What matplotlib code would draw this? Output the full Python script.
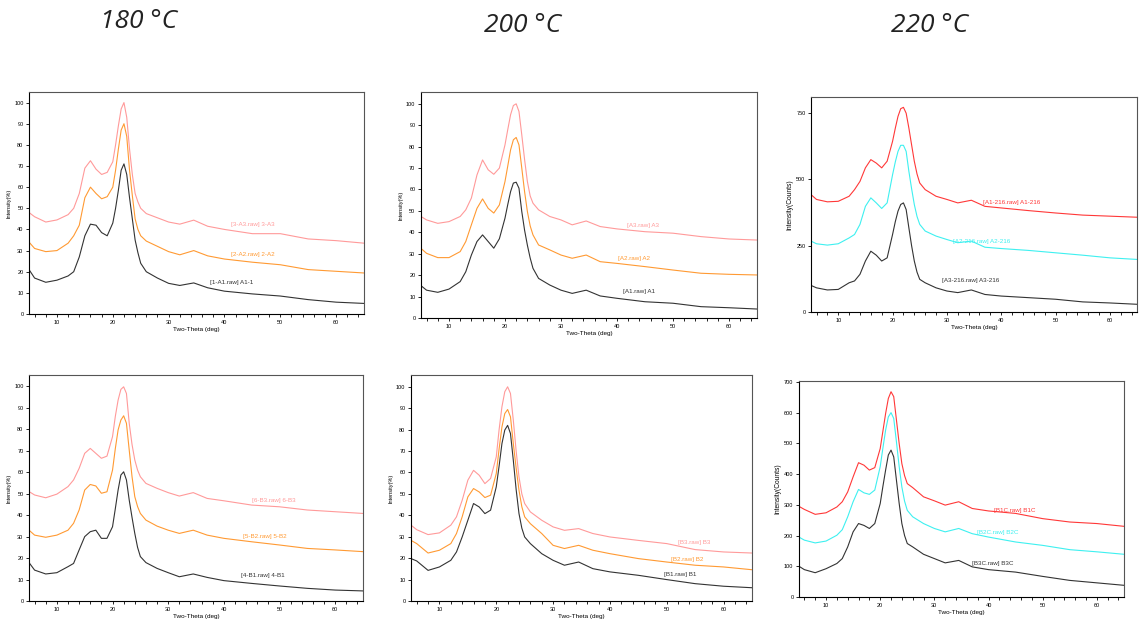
import matplotlib
matplotlib.use("Agg")
import matplotlib.pyplot as plt
from matplotlib.ticker import MultipleLocator

plt.rcParams.update({
    "font.family": "Liberation Sans",
    "axes.linewidth": 0.8,
    "xtick.direction": "out",
    "ytick.direction": "out",
})

# shared 2-theta sample grid (deg)
TWO_THETA = [5, 6, 8, 10, 12, 13, 14, 15, 16, 17, 18, 19, 20, 20.5, 21, 21.5, 22, 22.5, 23, 23.5,
             24, 24.5, 25, 26, 28, 30, 32, 34.5, 37, 40, 45, 50, 55, 60, 65]

# ---- 180 C, row A (%) ----
A1_1 = [21, 17, 15, 16, 18, 20, 27, 37, 42.5, 42, 38.5, 37, 43, 50, 58.5, 68, 71, 66, 55, 45,
        35, 29, 24, 20, 17, 14.5, 13.5, 14.7, 12.4, 10.8, 9.5, 8.5, 6.8, 5.6, 5]
A2_2 = [34, 31, 29.5, 30, 33.5, 37, 42, 55, 60, 57, 54.5, 55.5, 60, 68, 78, 87, 90, 84, 68, 56,
        45, 40, 37, 34.5, 32, 29.5, 28, 30, 27.5, 26, 24.5, 23.3, 21, 20.2, 19.4]
A3_3 = [48, 46, 43.5, 44.5, 47, 50, 57, 69, 72.5, 68.5, 66, 67, 72, 80, 89, 97, 100, 93, 78, 66,
        57, 53, 50, 47.5, 45.5, 43.5, 42.5, 44.4, 41.5, 40, 38, 38, 35.5, 34.7, 33.5]
# ---- 200 C, row A (%) ----
A1 = [15.1, 13, 12, 13.5, 17, 21.6, 29.4, 35.7, 38.8, 35.7, 32.6, 37, 46.6, 53, 59, 63, 63.4, 60.6, 49.7, 41,
      34, 28, 23.2, 18.5, 15.4, 13, 11.5, 13, 10.3, 9.2, 7.6, 6.9, 5.3, 4.8, 4.2]
A2 = [32.5, 30.2, 28.2, 28.2, 31, 35.7, 43.5, 51.2, 55.6, 51.2, 49, 52.8, 63.7, 71, 78.5, 83.2, 84.3, 80.8, 70, 59,
      49.7, 43, 38.8, 34.1, 31.8, 29.4, 27.9, 29.4, 26.3, 25.5, 24, 22.4, 20.9, 20.4, 20.1]
A3 = [47.4, 45.8, 44.2, 45, 47.4, 50.5, 56, 66.8, 73.8, 69.2, 67.1, 70, 80.8, 88, 94.9, 99.2, 100, 96.4, 85.5, 74,
      63.7, 57, 53.6, 50.5, 47.4, 45.8, 43.5, 45.3, 42.7, 41.6, 40.3, 39.6, 38, 36.9, 36.4]
# ---- 220 C, row A (counts) ----
A1_216 = [442, 424, 415, 417, 436, 461, 492, 543, 574, 561, 543, 568, 643, 692, 737, 766, 771, 749, 693, 630,
          568, 520, 486, 461, 436, 424, 411, 421, 398, 392, 382, 373, 365, 361, 357]
A2_216 = [267, 257, 252, 257, 279, 292, 330, 398, 430, 411, 390, 411, 517, 565, 605, 628, 628, 605, 530, 465,
          405, 360, 330, 305, 286, 273, 261, 267, 244, 239, 232, 223, 214, 204, 198]
A3_216 = [100, 91, 83, 85, 110, 117, 142, 192, 229, 214, 192, 204, 292, 340, 380, 405, 411, 386, 317, 250,
          192, 150, 123, 110, 91, 79, 73, 83, 66, 60, 54, 48, 38, 34, 29]
# ---- 180 C, row B (%) ----
B1_4 = [17.9, 14.4, 12.6, 13.2, 16, 17.5, 23.8, 30, 32.3, 33, 29.2, 29.2, 34.6, 43, 51.7, 58.7, 60.2, 56.4, 47, 39,
        31.5, 25, 20.7, 17.9, 15.2, 13.2, 11.3, 12.6, 11, 9.5, 8.2, 7, 5.9, 5.1, 4.7]
B2_5 = [33, 30.7, 29.7, 30.7, 33, 36.2, 42.4, 51.7, 54.3, 53.6, 50.2, 50.9, 61, 71, 79.7, 84.3, 86.3, 82.8, 70.3, 58,
        48.6, 44, 40.8, 37.7, 34.9, 33, 31.5, 33, 30.7, 29.2, 27.6, 26.1, 24.5, 23.8, 23]
B3_6 = [51, 49.4, 48.1, 49.8, 53.3, 56.4, 61.8, 68.8, 71.1, 68.8, 66.5, 67.5, 76.6, 86, 93.6, 98.6, 99.8, 96.7, 82.8, 73,
        65.7, 61, 57.9, 54.8, 52.5, 50.5, 48.9, 50.5, 47.8, 46.7, 44.7, 43.9, 42.4, 41.6, 40.8]
# ---- 200 C, row B (%) ----
B1 = [19.8, 18.7, 14.3, 15.9, 19, 22.9, 29.9, 37.7, 45.5, 43.9, 40.8, 42.4, 53.3, 63, 73.5, 79.8, 82, 78.2, 65.7, 52,
      40.8, 34, 29.9, 26.8, 22.1, 19, 16.7, 18.2, 15.1, 13.6, 12, 10, 8.1, 6.9, 6.2]
B2 = [28.3, 26.8, 22.4, 23.7, 26.8, 31.5, 39.3, 48.6, 52.5, 50.9, 48.3, 49.4, 59.5, 71, 81.3, 87.5, 89.4, 86, 73.5, 62,
      51.7, 44, 39.3, 36.1, 31.5, 26, 24.5, 26, 23.7, 22.1, 19.8, 18.2, 16.7, 15.9, 14.6]
B3 = [35.4, 33.3, 31, 31.8, 35.4, 39.3, 47, 56.4, 61, 58.7, 54.8, 57.2, 67.3, 80, 90.7, 97.7, 100, 96.9, 84.4, 70,
      57.9, 50, 45.5, 41.6, 37.7, 34.6, 33, 33.8, 31.5, 29.9, 28.3, 26.8, 24, 22.9, 22.4]
# ---- 220 C, row B (counts) ----
B1C = [295, 285, 269, 274, 293, 310, 342, 391, 437, 429, 413, 421, 483, 540, 597, 646, 668, 652, 576, 500,
       434, 395, 369, 356, 326, 313, 299, 310, 288, 280, 272, 255, 244, 239, 230]
B2C = [195, 185, 176, 182, 201, 219, 261, 310, 350, 339, 334, 348, 424, 485, 543, 586, 600, 581, 505, 425,
       358, 312, 282, 261, 239, 223, 212, 223, 206, 195, 179, 168, 154, 147, 139]
B3C = [100, 89, 79, 92, 109, 125, 163, 212, 239, 233, 223, 239, 304, 360, 413, 462, 478, 456, 380, 305,
       239, 200, 174, 163, 139, 125, 111, 119, 98, 89, 81, 67, 54, 46, 38]

TITLES = ["180 \u00b0C", "200 \u00b0C", "220 \u00b0C"]

PINK, ORANGE, BLACK = "#ff9a9a", "#ff9a33", "#333333"
RED, CYAN = "#ff3838", "#3ef0f0"

# (axes rect, ylim top, ytick step, ylabel, ylabel size, [(series, colour, label, (lx, ly))])
panels = [
    ([0.0254, 0.5008, 0.2931, 0.3529], 105, 10, "Intensity(%)", 4,
     [(A3_3, PINK, "[3-A3.raw] 3-A3", (41.2, 42.4)),
      (A2_2, ORANGE, "[2-A2.raw] 2-A2", (41.1, 28.3)),
      (A1_1, BLACK, "[1-A1.raw] A1-1", (37.5, 14.7))]),
    ([0.3683, 0.4944, 0.2940, 0.3593], 105.5, 10, "Intensity(%)", 4,
     [(A3, PINK, "[A3.raw] A3", (41.7, 43)),
      (A2, ORANGE, "[A2.raw] A2", (40.2, 27.9)),
      (A1, BLACK, "[A1.raw] A1", (41.1, 12.3))]),
    ([0.7096, 0.5040, 0.2852, 0.3418], 810, 250, "Intensity(Counts)", 4.8,
     [(A1_216, RED, "[A1-216.raw] A1-216", (36.7, 411)),
      (A2_216, CYAN, "[A2-216.raw] A2-216", (31.1, 267)),
      (A3_216, BLACK, "[A3-216.raw] A3-216", (29.1, 117))]),
    ([0.0254, 0.0445, 0.2922, 0.3593], 105.3, 10, "Intensity(%)", 4,
     [(B3_6, PINK, "[6-B3.raw] 6-B3", (45, 46.6)),
      (B2_5, ORANGE, "[5-B2.raw] 5-B2", (43.5, 30)),
      (B1_4, BLACK, "[4-B1.raw] 4-B1", (43, 11.8))]),
    ([0.3596, 0.0445, 0.2983, 0.3593], 105.5, 10, "Intensity(%)", 4,
     [(B3, PINK, "[B3.raw] B3", (52, 27.3)),
      (B2, ORANGE, "[B2.raw] B2", (50.7, 19.6)),
      (B1, BLACK, "[B1.raw] B1", (49.5, 12.5))]),
    ([0.6990, 0.0509, 0.2843, 0.3434], 703, 100, "Intensity(Counts)", 4.8,
     [(B1C, RED, "[B1C.raw] B1C", (41, 282)),
      (B2C, CYAN, "[B2C.raw] B2C", (37.8, 210)),
      (B3C, BLACK, "[B3C.raw] B3C", (37, 109))]),
]

fig = plt.figure(figsize=(11.43, 6.29), dpi=100)

for rect, ytop, ystep, ylab, ylsize, curves in panels:
    ax = fig.add_axes(rect)
    for ys, col, lab, (lx, ly) in curves:
        ax.plot(TWO_THETA, ys, color=col, lw=0.8)
        ax.text(lx, ly, lab, color=col, fontsize=4.5, va="center", ha="left")
    ax.set_xlim(5, 65)
    ax.set_ylim(0, ytop)
    ax.xaxis.set_major_locator(MultipleLocator(10))
    ax.xaxis.set_minor_locator(MultipleLocator(2))
    ax.yaxis.set_major_locator(MultipleLocator(ystep))
    ax.tick_params(axis="both", which="major", labelsize=4, length=2.5, width=0.6, pad=1.5)
    ax.tick_params(axis="x", which="minor", length=2, width=0.6)
    ax.set_xlabel("Two-Theta (deg)", fontsize=4.6, labelpad=2)
    ax.set_ylabel(ylab, fontsize=ylsize, labelpad=2)
    for s in ("top", "right"):
        ax.spines[s].set_color("#555555")
        ax.spines[s].set_linewidth(0.8)

for t, xc, yc in zip(TITLES, [139, 523, 930], [21, 25, 25]):
    fig.text(xc / 1143, 1 - yc / 629, t, fontsize=19, style="italic",
             ha="center", va="center", color="#222222", family="Open Sans")

fig.savefig("out.png", dpi=100)
